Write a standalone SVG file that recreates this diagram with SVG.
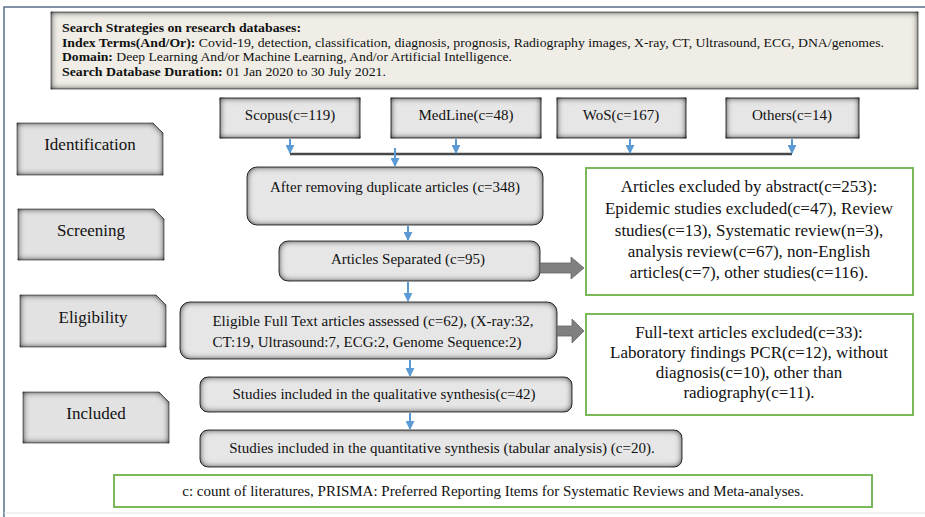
<svg xmlns="http://www.w3.org/2000/svg" width="925" height="517" viewBox="0 0 925 517">
<style>
  text { font-family: 'Liberation Serif', Tinos, 'Times New Roman', 'DejaVu Serif', serif; fill: #111; }
  .hdr { font-size: 13px; }
  .b { font-weight: bold; }
  .t15 { font-size: 15px; text-anchor: middle; }
  .t17 { font-size: 17px; text-anchor: middle; }
  .stage { fill: #e2e2e2; stroke: #5a5a5a; stroke-width: 0.8; }
  .box { fill: #e6e6e6; stroke: #444; stroke-width: 1; }
  .green { fill: #ffffff; stroke: #7ab85a; stroke-width: 2; }
  .blue { stroke: #5b9bd5; stroke-width: 2; fill: none; }
  .block { fill: #808080; stroke: #666; stroke-width: 0.8; }
</style>
<defs>
  <filter id="bevel" x="-5%" y="-10%" width="110%" height="120%">
    <feGaussianBlur in="SourceAlpha" stdDeviation="3" result="b"/>
    <feComposite in="SourceAlpha" in2="b" operator="arithmetic" k2="1" k3="-1" result="e"/>
    <feFlood flood-color="#1e1e1e"/>
    <feComposite in2="e" operator="in" result="s"/>
    <feMerge><feMergeNode in="SourceGraphic"/><feMergeNode in="s"/><feMergeNode in="s"/></feMerge>
  </filter>
  <marker id="ah" viewBox="0 0 10 10" refX="9" refY="5" markerWidth="4.5" markerHeight="4.5" orient="auto" markerUnits="strokeWidth">
    <path d="M0,0 L10,5 L0,10 z" fill="#5b9bd5"/>
  </marker>
</defs>

<rect width="925" height="517" fill="#ffffff"/>
<path d="M4,517 V7 H925" fill="none" stroke="#5a6f8a" stroke-width="1.5"/>
<line x1="4" y1="513" x2="925" y2="513" stroke="#e2e2e2" stroke-width="1"/>

<g id="header">
  <rect x="51" y="12" width="867" height="77" fill="#efede6" stroke="#555" stroke-width="0.8" filter="url(#bevel)"/>
  <text class="hdr b" x="62" y="32" textLength="239" lengthAdjust="spacingAndGlyphs">Search Strategies on research  databases:</text>
  <text class="hdr" x="62" y="47" textLength="822" lengthAdjust="spacingAndGlyphs"><tspan class="b">Index Terms(And/Or):</tspan> Covid-19, detection, classification, diagnosis, prognosis, Radiography images, X-ray, CT, Ultrasound, ECG, DNA/genomes.</text>
  <text class="hdr" x="62" y="61" textLength="450" lengthAdjust="spacingAndGlyphs"><tspan class="b">Domain:</tspan> Deep Learning And/or Machine Learning, And/or Artificial Intelligence.</text>
  <text class="hdr" x="62" y="76" textLength="324" lengthAdjust="spacingAndGlyphs"><tspan class="b">Search Database Duration:</tspan> 01 Jan 2020 to 30 July 2021.</text>
</g>

<g id="stage-identification">
  <path class="stage" d="M17,123 H153 L163,133 V175 H17 Z" filter="url(#bevel)"/>
  <text class="t17" x="90" y="150">Identification</text>
</g>
<g id="stage-screening">
  <path class="stage" d="M18,209 H154 L164,219 V260 H18 Z" filter="url(#bevel)"/>
  <text class="t17" x="91" y="236">Screening</text>
</g>
<g id="stage-eligibility">
  <path class="stage" d="M20,295 H156 L166,305 V347 H20 Z" filter="url(#bevel)"/>
  <text class="t17" x="93" y="323">Eligibility</text>
</g>
<g id="stage-included">
  <path class="stage" d="M23,392 H159 L169,402 V443 H23 Z" filter="url(#bevel)"/>
  <text class="t17" x="96" y="419">Included</text>
</g>

<g id="scopus">
  <rect class="box" x="220" y="98" width="140" height="40" filter="url(#bevel)"/>
  <text class="t15" x="290" y="120">Scopus(c=119)</text>
</g>
<g id="medline">
  <rect class="box" x="391" y="98" width="150" height="40" filter="url(#bevel)"/>
  <text class="t15" x="466" y="120">MedLine(c=48)</text>
</g>
<g id="wos">
  <rect class="box" x="557" y="98" width="129" height="40" filter="url(#bevel)"/>
  <text class="t15" x="621" y="120">WoS(c=167)</text>
</g>
<g id="others">
  <rect class="box" x="726" y="98" width="133" height="40" filter="url(#bevel)"/>
  <text class="t15" x="792" y="120">Others(c=14)</text>
</g>

<g id="duplicates">
  <rect class="box" x="247" y="167" width="296" height="58" rx="10" filter="url(#bevel)"/>
  <text class="t15" x="395" y="192">After removing duplicate articles (c=348)</text>
</g>
<g id="separated">
  <rect class="box" x="279" y="241" width="261" height="40" rx="9" filter="url(#bevel)"/>
  <text class="t15" x="408" y="264">Articles Separated (c=95)</text>
</g>
<g id="eligible">
  <rect class="box" x="180" y="302" width="377" height="57" rx="10" filter="url(#bevel)"/>
  <text class="t15" x="373" y="326">Eligible Full Text articles assessed (c=62), (X-ray:32,</text>
  <text class="t15" x="367" y="347">CT:19, Ultrasound:7, ECG:2, Genome Sequence:2)</text>
</g>
<g id="qualitative">
  <rect class="box" x="200" y="377" width="372" height="35" rx="8" filter="url(#bevel)"/>
  <text class="t15" x="384" y="399">Studies included in the qualitative synthesis(c=42)</text>
</g>
<g id="quantitative">
  <rect class="box" x="200" y="430" width="482" height="37" rx="8" filter="url(#bevel)"/>
  <text class="t15" x="442" y="453">Studies included in the quantitative synthesis (tabular analysis) (c=20).</text>
</g>

<g id="excluded-abstract">
  <rect class="green" x="586" y="168" width="327" height="127"/>
  <text class="t17" x="749" y="192">Articles excluded by abstract(c=253):</text>
  <text class="t17" x="749" y="214">Epidemic studies excluded(c=47), Review</text>
  <text class="t17" x="749" y="236">studies(c=13), Systematic review(n=3),</text>
  <text class="t17" x="749" y="257">analysis review(c=67), non-English</text>
  <text class="t17" x="749" y="278">articles(c=7), other studies(c=116).</text>
</g>
<g id="excluded-fulltext">
  <rect class="green" x="586" y="314" width="327" height="101"/>
  <text class="t17" x="749" y="338">Full-text articles excluded(c=33):</text>
  <text class="t17" x="749" y="358">Laboratory findings PCR(c=12), without</text>
  <text class="t17" x="749" y="378">diagnosis(c=10), other than</text>
  <text class="t17" x="749" y="398">radiography(c=11).</text>
</g>
<g id="footnote">
  <rect class="green" x="114" y="475" width="758" height="32"/>
  <text class="t15" x="493" y="496">c: count of literatures, PRISMA: Preferred Reporting Items for Systematic Reviews and Meta-analyses.</text>
</g>

<g id="connectors">
  <line x1="290" y1="154" x2="792" y2="154" stroke="#474747" stroke-width="2.5"/>
  <line class="blue" x1="290" y1="139" x2="290" y2="153" marker-end="url(#ah)"/>
  <line class="blue" x1="456" y1="139" x2="456" y2="153" marker-end="url(#ah)"/>
  <line class="blue" x1="630" y1="139" x2="630" y2="153" marker-end="url(#ah)"/>
  <line class="blue" x1="792" y1="139" x2="792" y2="153" marker-end="url(#ah)"/>
  <line class="blue" x1="395" y1="148" x2="395" y2="166" marker-end="url(#ah)"/>
  <line class="blue" x1="408" y1="226" x2="408" y2="240" marker-end="url(#ah)"/>
  <line class="blue" x1="408" y1="282" x2="408" y2="301" marker-end="url(#ah)"/>
  <line class="blue" x1="410" y1="360" x2="410" y2="376" marker-end="url(#ah)"/>
  <line class="blue" x1="410" y1="413" x2="410" y2="429" marker-end="url(#ah)"/>
  <path class="block" d="M540,263 H571 V257 L584,268 L571,279 V273 H540 Z"/>
  <path class="block" d="M557,326 H572 V319 L584,331 L572,343 V336 H557 Z"/>
</g>
</svg>
